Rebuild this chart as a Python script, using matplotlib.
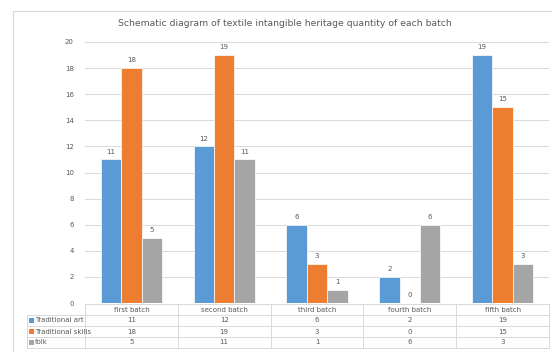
import numpy as np
import matplotlib.pyplot as plt
from matplotlib.patches import Rectangle
from matplotlib.lines import Line2D

# batches and counts per category
batches = ['first batch', 'second batch', 'third batch', 'fourth batch', 'fifth batch']
series_names = ['Traditional art', 'Traditional skills', 'folk']
trad_art = [11, 12, 6, 2, 19]
trad_skills = [18, 19, 3, 0, 15]
folk = [5, 11, 1, 6, 3]
series_colors = ['#5B9BD5', '#ED7D31', '#A5A5A5']

W, H = 552, 352
fig = plt.figure(figsize=(W / 100, H / 100), dpi=100)
fig.patch.set_facecolor('white')

def fx(px):
    return px / W

def fy(py):
    return 1 - py / H

# outer chart border
fig.add_artist(Rectangle((fx(13), fy(352)), fx(560) - fx(13), fy(11) - fy(352),
                         transform=fig.transFigure, fill=False, ec='#D9D9D9', lw=0.8))

ax = fig.add_axes([fx(85), fy(303), fx(549) - fx(85), fy(42) - fy(303)])
x = np.arange(len(batches))
bw = 0.22
all_series = [trad_art, trad_skills, folk]
for i, (vals, c) in enumerate(zip(all_series, series_colors)):
    pos = x + (i - 1) * bw
    bars = ax.bar(pos, vals, width=bw, color=c, edgecolor='white', linewidth=0.5, zorder=3)
    for xp, v in zip(pos, vals):
        ax.text(xp, v + 0.6, str(v), ha='center', va='center', fontsize=5, color='#595959')

ax.set_xlim(-0.5, len(batches) - 0.5)
ax.set_ylim(0, 20)
ax.set_yticks(range(0, 21, 2))
ax.tick_params(axis='y', labelsize=5, colors='#595959', length=0, pad=8)
ax.set_xticks([])
ax.grid(axis='y', color='#D9D9D9', lw=0.7, zorder=0)
for s in ax.spines.values():
    s.set_visible(False)

fig.text(fx(285), fy(24), 'Schematic diagram of textile intangible heritage quantity of each batch',
         ha='center', va='center', fontsize=6.7, color='#595959')

# data table under the axis
line_c = '#D9D9D9'
col_edges = np.linspace(85, 549, len(batches) + 1)
row_edges = [304, 315, 326, 337, 348]

def hline(y, x0, x1):
    fig.add_artist(Line2D([fx(x0), fx(x1)], [fy(y), fy(y)], transform=fig.transFigure, color=line_c, lw=0.7))

def vline(xx, y0, y1):
    fig.add_artist(Line2D([fx(xx), fx(xx)], [fy(y0), fy(y1)], transform=fig.transFigure, color=line_c, lw=0.7))

hline(row_edges[0], 85, 549)
for y in row_edges[1:]:
    hline(y, 27, 549)
vline(27, row_edges[1], row_edges[-1])
for xx in col_edges:
    vline(xx, row_edges[0], row_edges[-1])

for j, b in enumerate(batches):
    cx = (col_edges[j] + col_edges[j + 1]) / 2
    fig.text(fx(cx), fy((row_edges[0] + row_edges[1]) / 2), b, ha='center', va='center',
             fontsize=5, color='#595959')

for i, (name, vals, c) in enumerate(zip(series_names, all_series, series_colors)):
    yc = (row_edges[i + 1] + row_edges[i + 2]) / 2
    fig.add_artist(Rectangle((fx(29), fy(yc + 2.5)), fx(5), fy(yc - 2.5) - fy(yc + 2.5),
                             transform=fig.transFigure, color=c, lw=0))
    fig.text(fx(35), fy(yc), name, ha='left', va='center', fontsize=5, color='#595959')
    for j, v in enumerate(vals):
        cx = (col_edges[j] + col_edges[j + 1]) / 2
        fig.text(fx(cx), fy(yc), str(v), ha='center', va='center', fontsize=5, color='#595959')

plt.savefig('out.png', dpi=100)
plt.close()
